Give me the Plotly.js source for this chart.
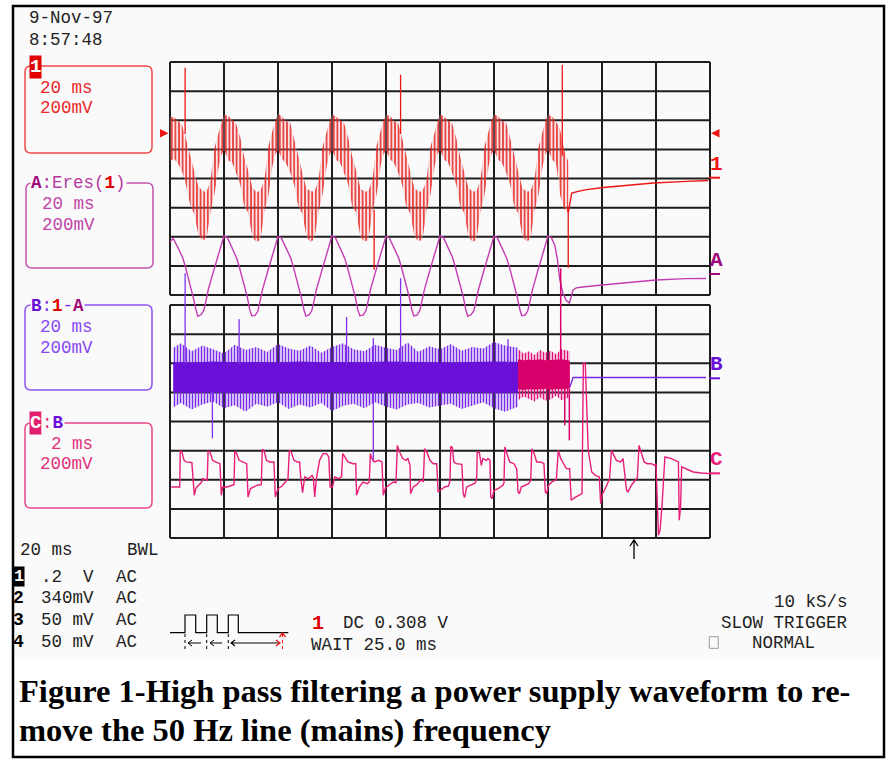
<!DOCTYPE html>
<html><head><meta charset="utf-8">
<script src="https://cdn.plot.ly/plotly-3.0.1.min.js"></script>
<style>html,body{margin:0;padding:0;background:#fff;}#chart{width:889px;height:764px;}</style>
</head><body><div id="chart"></div>
<script>
// Channel 1: 20 ms/div, 200 mV/div - envelope of the rippled mains waveform (mV)
const ch1_t = [0,1.5,3,4.5,6,7.5,9,10.5,12,13.5,15,16.5,18,19,
 20,21.5,23,24.5,26,27.5,29,30.5,32,33.5,35,36.5,38,39,
 40,41.5,43,44.5,46,47.5,49,50.5,52,53.5,55,56.5,58,59,
 60,61.5,63,64.5,66,67.5,69,70.5,72,73.5,75,76.5,78,79,
 80,81.5,83,84.5,86,87.5,89,90.5,92,93.5,95,96.5,98,99,
 100,101.5,103,104.5,106,107.5,109,110.5,112,113.5,115,116.5,118,119,
 120,121.5,123,124.5,126,127.5,129,130.5,132,133.5,135,136.5,138,139,
 140,141.5,143,144.5,146,147.5];
const ch1_upper = [420,415,390,360,260,150,40,-60,-90,-100,-20,205,310,380,
 433,425,395,370,280,140,50,-65,-100,-90,-10,220,325,390,
 440,418,388,378,268,150,40,-75,-92,-96,-18,210,315,385,
 436,420,393,372,275,145,46,-70,-96,-92,-12,218,320,388,
 430,424,390,376,270,148,42,-72,-94,-95,-16,214,316,386,
 438,419,392,374,274,144,45,-68,-93,-94,-14,216,319,389,
 435,422,390,377,271,147,43,-71,-95,-93,-15,213,317,387,
 433,420,385,330,190,110];
const ch1_lower = [115,130,95,40,-55,-190,-250,-395,-430,-420,-240,-110,70,150,
 195,120,105,30,-45,-200,-240,-410,-440,-430,-225,-120,85,160,
 190,128,98,35,-50,-195,-248,-400,-445,-420,-235,-115,75,155,
 192,122,102,30,-46,-198,-240,-405,-438,-428,-228,-118,80,158,
 188,126,100,34,-50,-196,-245,-402,-436,-425,-232,-116,78,160,
 194,123,103,31,-47,-199,-242,-404,-440,-427,-230,-119,79,157,
 191,125,100,33,-49,-197,-244,-401,-437,-426,-231,-117,77,159,
 192,125,95,-120,-215,-240];
const ch1_spike_t    = [5.6, 75.6, 85.4, 145.3, 147.5];
const ch1_spike_from = [300, -220, 300, 150, -200];
const ch1_spike_to   = [755, -632, 707, 776, -618];
const ch1_tail_t  = [147.5,148.8,151.2,154.3,160.5,171.6,179.0,191.4,199.4];
const ch1_tail_mv = [-240,-105,-94,-82,-67,-48,-36,-25,-19];

// Trace A = Eres(1): 20 ms/div, 200 mV/div
const A_t = [0,1.2,3.3,4.7,5.7,6.7,7.6,8.6,9.6,10.3,11.5,12.5,13.2,14.2,16.1,17.4,18.6,
 20,21.2,23.3,24.7,25.7,26.7,27.6,28.6,29.6,30.3,31.5,32.5,33.2,34.2,36.1,37.4,38.6,
 40,41.2,43.3,44.7,45.7,46.7,47.6,48.6,49.6,50.3,51.5,52.5,53.2,54.2,56.1,57.4,58.6,
 60,61.2,63.3,64.7,65.7,66.7,67.6,68.6,69.6,70.3,71.5,72.5,73.2,74.2,76.1,77.4,78.6,
 80,81.2,83.3,84.7,85.7,86.7,87.6,88.6,89.6,90.3,91.5,92.5,93.2,94.2,96.1,97.4,98.6,
 100,101.2,103.3,104.7,105.7,106.7,107.6,108.6,109.6,110.3,111.5,112.5,113.2,114.2,116.1,117.4,118.6,
 120,121.2,123.3,124.7,125.7,126.7,127.6,128.6,129.6,130.3,131.5,132.5,133.2,134.2,136.1,137.4,138.6,
 140,141.2,142.5,143.5,144.4,145.5,146.7,147.9,148.5,149.3,150.5,152,160,167,180,191,198.5];
const A_mv = [222,245,168,112,50,-18,-86,-160,-245,-290,-280,-250,-196,-105,18,98,188,
 261,252,163,108,46,-22,-90,-155,-250,-286,-284,-256,-200,-112,12,94,183,
 258,248,166,111,49,-20,-88,-159,-246,-289,-281,-253,-198,-108,15,97,186,
 262,251,164,109,47,-23,-91,-157,-248,-287,-283,-255,-201,-111,13,95,184,
 260,249,167,110,48,-19,-87,-158,-247,-288,-282,-252,-197,-109,16,96,185,
 261,253,165,112,46,-21,-89,-156,-249,-290,-280,-254,-199,-110,14,98,187,
 259,250,164,109,49,-20,-88,-158,-246,-287,-283,-253,-198,-112,15,96,184,
 261,250,200,100,-41,-130,-180,-199,-160,-110,-95,-91,-76,-62,-41,-32,-31];

// Trace B = 1-A (residual ripple): noise band envelopes (mV)
const B_fr_t  = [1.2,4,8,12,16,20,24,28,32,36,40,44,48,52,56,60,64,68,72,76,80,84,88,92,96,100,104,108,112,116,120,124,128.9];
const B_fr_up = [210,240,185,225,200,170,230,195,215,180,235,205,190,225,175,215,240,200,185,230,210,195,245,180,220,200,235,190,215,205,250,225,210];
const B_fr_lo = [-200,-170,-215,-180,-160,-205,-185,-230,-175,-195,-165,-210,-180,-200,-170,-225,-190,-175,-205,-165,-195,-215,-180,-170,-200,-185,-175,-210,-190,-165,-205,-230,-195];
const B_t       = [1.2,8,16,24,32,40,48,56,64,72,80,88,96,104,112,120,128.9];
const B_core_up = [112,108,115,110,112,108,115,110,112,110,115,112,110,108,112,115,112];
const B_core_lo = [-96,-100,-95,-100,-98,-96,-100,-97,-95,-100,-98,-96,-100,-98,-96,-100,-98];
const Bx_t       = [128.9,131,133,135,137,139,141,143,145,148.1];
const Bx_fr_up   = [200,170,185,160,195,175,190,165,200,185];
const Bx_fr_lo   = [-150,-125,-140,-160,-130,-155,-145,-120,-150,-130];
const Bx_core_up = [130,124,128,126,130,124,126,128,130,120];
const Bx_core_lo = [-76,-80,-74,-78,-76,-72,-78,-74,-76,-70];
const B_spike_t    = [5.6,15.7,25.6,65.4,75.3,75.3,85.4,125.2];
const B_spike_from = [100,-90,100,100,100,-90,100,100];
const B_spike_to   = [721,-412,405,421,275,-575,687,268];
const Bx_spike_t    = [144.7,146.2,147.9];
const Bx_spike_from = [120,-70,-70];
const Bx_spike_to   = [755,-323,-426];
const B_tail_t  = [148.1,149.3,160,170,180,190,198.5];
const B_tail_mv = [-60,5,5,5,5,5,5];

// Trace C = B at 2 ms/div, 200 mV/div
const C_t = [0.05,0.36,0.38,0.44,0.52,0.60,0.81,0.85,0.90,0.96,1.10,1.16,1.21,1.31,1.38,
 1.41,1.48,1.58,1.68,1.85,1.90,1.95,2.12,2.30,2.37,
 2.40,2.47,2.56,2.67,2.84,2.89,2.98,3.11,3.23,3.38,
 3.42,3.48,3.57,3.69,3.85,3.90,4.00,4.15,4.27,4.37,
 4.42,4.49,4.59,4.72,4.80,4.84,4.91,4.99,5.14,5.26,5.31,5.36,5.42,5.54,5.67,5.80,5.88,5.93,6.02,6.10,6.25,6.35,
 6.40,6.47,6.59,6.78,6.88,6.91,7.01,7.15,7.31,7.38,
 7.42,7.48,7.58,7.73,7.85,7.90,7.98,8.10,8.27,8.37,
 8.42,8.49,8.62,8.74,8.81,8.89,8.91,9.01,9.14,9.28,9.38,
 9.43,9.51,9.63,9.75,9.88,9.93,10.17,10.32,10.37,
 10.40,10.46,10.51,10.60,10.81,10.86,10.91,10.99,11.16,11.31,11.36,
 11.38,11.46,11.53,11.59,11.72,11.78,11.85,11.88,11.93,12.00,12.15,12.33,12.37,
 12.40,12.47,12.58,12.74,12.84,12.89,12.94,13.01,13.16,13.28,13.36,
 13.40,13.49,13.58,13.73,13.85,13.90,13.95,14.02,14.15,14.31,
 14.38,14.47,14.57,14.68,14.80,14.86,14.99,15.17,15.26,15.31,15.38,15.49,15.62,15.75,15.90,15.95,16.02,16.15,16.28,
 16.35,16.43,16.53,16.69,16.78,16.84,16.91,16.96,17.09,17.23,17.31,
 17.37,17.46,17.56,17.68,17.83,17.95,18.00,18.09,18.15,18.22,18.27,18.33,18.57,18.83,18.86,18.91,18.95,19.38,19.68,20.0];
const C_mv = [-94,-94,151,147,89,78,73,-60,-151,-101,-78,-64,-37,-44,-48,
 151,147,89,78,66,-151,-94,-94,-82,-78,
 151,135,89,78,66,-163,-105,-94,-82,-78,
 165,158,89,78,78,-163,-105,-87,-60,-37,
 158,147,89,78,78,-25,-133,-25,-37,-14,-32,-163,-37,89,135,135,112,-94,-94,-25,-37,-25,
 135,112,78,66,66,-151,-94,-60,-71,-60,
 135,101,78,89,78,-151,-101,-82,-60,-64,
 192,151,101,89,101,55,-140,-94,-78,-48,-55,
 169,147,89,66,66,-128,-94,-87,-48,
 185,176,78,66,62,-140,-167,-94,-82,-66,-25,
 151,140,55,101,89,101,89,-163,-174,-117,-105,-82,-66,
 181,135,78,66,32,-128,-140,-94,-82,-71,-48,
 169,135,78,78,66,-128,-140,-82,-59,-43,
 158,101,66,32,32,-185,-167,-151,-140,758,758,158,9,-14,-25,-208,-140,-94,-37,
 158,124,89,78,101,-2,-117,-128,-82,-48,-30,
 192,135,78,66,66,55,66,-426,-391,-231,-48,112,101,78,-322,-231,44,9,2,-2];

// ================= LAYOUT HELPERS =================
const W = 889, H = 764, L = 170, R = 710, TOP = 62, BOT = 538;
const X = px => (px - L) / (R - L);
const Y = py => (BOT - py) / (BOT - TOP);
const MVPX = 200 / 29.125;                 // 200 mV per 29.125 px row
const yr = g => [-(BOT - g) * MVPX, (g - TOP) * MVPX];
const MONO = '"Liberation Mono","DejaVu Sans Mono",monospace';
const SERIF = '"Liberation Serif","Times New Roman",serif';
const BG = '#fafafa';
const RED = '#ee1515', MAG = '#c33cb4', MAGD = '#a0087a', PUR = '#6a10d8', PURL = '#8a4af0', PINK = '#e81e78', CRIM = '#d8006a';

function poly(t, up, lo) { return { x: t.concat(t.slice().reverse()), y: up.concat(lo.slice().reverse()) }; }
function spikes(t, a, b) { const x = [], y = []; t.forEach((v, i) => { x.push(v, v, null); y.push(a[i], b[i], null); }); return { x, y }; }

const traces = [];
const p1 = poly(ch1_t, ch1_upper, ch1_lower);
traces.push({ x: p1.x, y: p1.y, xaxis: 'x', yaxis: 'y', mode: 'lines', fill: 'toself', line: { width: 0, color: RED },
  fillpattern: { shape: '|', fgcolor: '#e41414', bgcolor: 'rgba(250,175,175,0.3)', size: 3.6, solidity: 0.38 }, hoverinfo: 'skip' });
const s1 = spikes(ch1_spike_t, ch1_spike_from, ch1_spike_to);
traces.push({ x: s1.x, y: s1.y, xaxis: 'x', yaxis: 'y', mode: 'lines', line: { width: 1.3, color: RED }, connectgaps: false });
traces.push({ x: ch1_tail_t, y: ch1_tail_mv, xaxis: 'x', yaxis: 'y', mode: 'lines', line: { width: 1.4, color: RED } });

traces.push({ x: A_t, y: A_mv, xaxis: 'x', yaxis: 'y2', mode: 'lines', line: { width: 1.4, color: MAG } });

const bf = poly(B_fr_t, B_fr_up, B_fr_lo);
traces.push({ x: bf.x, y: bf.y, xaxis: 'x', yaxis: 'y3', mode: 'lines', fill: 'toself', line: { width: 0, color: PURL },
  fillpattern: { shape: '|', fgcolor: '#7a2ae8', bgcolor: 'rgba(150,100,240,0.2)', size: 3, solidity: 0.45 } });
const bc = poly(B_t, B_core_up, B_core_lo);
traces.push({ x: bc.x, y: bc.y, xaxis: 'x', yaxis: 'y3', mode: 'lines', fill: 'toself', line: { width: 0, color: PUR }, fillcolor: PUR });
const xf = poly(Bx_t, Bx_fr_up, Bx_fr_lo);
traces.push({ x: xf.x, y: xf.y, xaxis: 'x', yaxis: 'y3', mode: 'lines', fill: 'toself', line: { width: 0, color: CRIM },
  fillpattern: { shape: '|', fgcolor: '#e0107a', bgcolor: 'rgba(230,80,150,0.2)', size: 3, solidity: 0.45 } });
const xc = poly(Bx_t, Bx_core_up, Bx_core_lo);
traces.push({ x: xc.x, y: xc.y, xaxis: 'x', yaxis: 'y3', mode: 'lines', fill: 'toself', line: { width: 0, color: CRIM }, fillcolor: CRIM });
const sb = spikes(B_spike_t, B_spike_from, B_spike_to);
traces.push({ x: sb.x, y: sb.y, xaxis: 'x', yaxis: 'y3', mode: 'lines', line: { width: 1.3, color: '#8030ee' } });
const sx = spikes(Bx_spike_t, Bx_spike_from, Bx_spike_to);
traces.push({ x: sx.x, y: sx.y, xaxis: 'x', yaxis: 'y3', mode: 'lines', line: { width: 1.5, color: CRIM } });
traces.push({ x: B_tail_t, y: B_tail_mv, xaxis: 'x', yaxis: 'y3', mode: 'lines', line: { width: 1.4, color: '#7a2ae8' } });

traces.push({ x: C_t, y: C_mv, xaxis: 'x2', yaxis: 'y4', mode: 'lines', line: { width: 1.4, color: PINK } });

// ================= SHAPES =================
const shapes = [];
shapes.push({ type: 'rect', xref: 'paper', yref: 'paper', x0: X(14), x1: X(882), y0: Y(657), y1: Y(7), fillcolor: BG, line: { width: 0 }, layer: 'below' });
shapes.push({ type: 'rect', xref: 'paper', yref: 'paper', x0: X(13), x1: X(884), y0: Y(757), y1: Y(6), line: { color: '#000', width: 2.5 }, layer: 'above' });
const panels = [[62, 295], [305, 538]];
panels.forEach(([a, b]) => {
  for (let i = 0; i <= 10; i++) shapes.push({ type: 'line', xref: 'paper', yref: 'paper', x0: i / 10, x1: i / 10, y0: Y(b), y1: Y(a), line: { color: '#1e1e1e', width: 2 }, layer: 'below' });
  for (let j = 0; j <= 8; j++) { const py = a + (b - a) * j / 8; shapes.push({ type: 'line', xref: 'paper', yref: 'paper', x0: 0, x1: 1, y0: Y(py), y1: Y(py), line: { color: '#1e1e1e', width: 2 }, layer: 'below' }); }
});
function rr(x0, y0, x1, y1, r) {
  const p = (x, y) => X(x) + ',' + Y(y);
  return `M${p(x0 + r, y0)} L${p(x1 - r, y0)} Q${p(x1, y0)} ${p(x1, y0 + r)} L${p(x1, y1 - r)} Q${p(x1, y1)} ${p(x1 - r, y1)} L${p(x0 + r, y1)} Q${p(x0, y1)} ${p(x0, y1 - r)} L${p(x0, y0 + r)} Q${p(x0, y0)} ${p(x0 + r, y0)} Z`;
}
function path(d, color, w, dash) { return { type: 'path', xref: 'paper', yref: 'paper', path: d, line: { color, width: w, dash: dash || 'solid' } }; }
const pp = (x, y) => X(x) + ',' + Y(y);
shapes.push(path(rr(25, 66, 152, 153, 6), '#f04848', 1.5));
shapes.push(path(rr(26, 183, 153, 268, 6), '#c453b0', 1.5));
shapes.push(path(rr(25, 305, 152, 390, 6), '#8c52f0', 1.5));
shapes.push(path(rr(25, 423, 152, 508, 6), '#e8468a', 1.5));
shapes.push({ type: 'path', xref: 'paper', yref: 'paper', path: `M${pp(160, 129)} L${pp(168.5, 133.3)} L${pp(160, 137.6)} Z`, fillcolor: RED, line: { width: 0 } });
shapes.push({ type: 'path', xref: 'paper', yref: 'paper', path: `M${pp(719.5, 129)} L${pp(711, 133.3)} L${pp(719.5, 137.6)} Z`, fillcolor: RED, line: { width: 0 } });
[[177.7, RED], [274, MAGD], [378.3, PUR], [473.3, PINK]].forEach(([py, c]) =>
  shapes.push({ type: 'line', xref: 'paper', yref: 'paper', x0: X(709), x1: X(720), y0: Y(py), y1: Y(py), line: { color: c, width: 2 } }));
shapes.push(path(`M${pp(634, 559)} L${pp(634, 540)} M${pp(630, 546)} L${pp(634, 540)} L${pp(638, 546)}`, '#000', 1.3));
shapes.push(path(`M${pp(170, 632.7)} L${pp(185, 632.7)} L${pp(185, 615)} L${pp(195.7, 615)} L${pp(195.7, 632.7)} L${pp(206.7, 632.7)} L${pp(206.7, 615)} L${pp(217.3, 615)} L${pp(217.3, 632.7)} L${pp(228.3, 632.7)} L${pp(228.3, 615)} L${pp(238.3, 615)} L${pp(238.3, 632.7)} L${pp(288.3, 632.7)}`, '#000', 1.2));
[185, 206.7, 228.3].forEach(x => shapes.push(path(`M${pp(x, 634)} L${pp(x, 650)}`, '#000', 1, 'dot')));
shapes.push(path(`M${pp(188, 643)} L${pp(201, 643)} M${pp(192, 640)} L${pp(188, 643)} L${pp(192, 646)}`, '#000', 1));
shapes.push(path(`M${pp(210, 643)} L${pp(222, 643)} M${pp(214, 640)} L${pp(210, 643)} L${pp(214, 646)}`, '#000', 1));
shapes.push(path(`M${pp(231, 643)} L${pp(279, 643)} M${pp(235, 640)} L${pp(231, 643)} L${pp(235, 646)}`, '#000', 1.1));
shapes.push(path(`M${pp(276, 640)} L${pp(280, 643)} L${pp(276, 646)}`, RED, 1.3));
shapes.push(path(`M${pp(282.5, 649)} L${pp(282.5, 634)}`, RED, 1, 'dot'));
shapes.push(path(`M${pp(279.5, 637)} L${pp(282.5, 633)} L${pp(285.5, 637)}`, RED, 1.3));
shapes.push({ type: 'rect', xref: 'paper', yref: 'paper', x0: X(709.3), x1: X(718.3), y0: Y(648.3), y1: Y(636.7), line: { color: '#9a9a9a', width: 1 } });

// ================= TEXT =================
function T(x, y, text, o) {
  o = o || {};
  return Object.assign({ xref: 'paper', yref: 'paper', x: X(x), y: Y(y), text, showarrow: false, xanchor: 'left', yanchor: 'middle', borderpad: 0,
    font: { family: MONO, size: 17.5, color: o.color || '#222' } }, o.extra || {});
}
const sp = (c, s) => `<span style="color:${c}">${s}</span>`;
const ann = [
  T(28, 18.3, '9-Nov-97'), T(28, 40, '8:57:48'),
  T(29, 67, '<b>1</b>', { extra: { bgcolor: '#e00000', font: { family: MONO, size: 19, color: '#fff' } } }),
  T(39, 88, '20 ms', { color: '#e82828' }), T(39, 108, '200mV', { color: '#e82828' }),
  T(30, 183, `<b>${sp(MAGD, 'A')}</b>:Eres(<b>${sp('#e00000', '1')}</b>)`, { color: '#b83aa2', extra: { bgcolor: BG } }),
  T(41, 204, '20 ms', { color: '#c044a8' }), T(41, 225, '200mV', { color: '#c044a8' }),
  T(29.5, 306, `<b>${sp(PUR, 'B')}</b>:<b>${sp('#e00000', '1')}</b>-<b>${sp(MAGD, 'A')}</b>`, { color: '#7a30e4', extra: { bgcolor: BG } }),
  T(39, 327, '20 ms', { color: '#8848f0' }), T(39, 348, '200mV', { color: '#8848f0' }),
  T(29, 423, '<b>C</b>', { extra: { bgcolor: '#e0206e', font: { family: MONO, size: 19, color: '#fff' } } }),
  T(40.5, 423, `:<b>${sp(PUR, 'B')}</b>`, { color: '#e0307a', extra: { bgcolor: BG } }),
  T(50, 444, '2 ms', { color: '#e0307a' }), T(39, 464, '200mV', { color: '#e0307a' }),
  T(709, 164.5, '<b>1</b>', { extra: { font: { family: MONO, size: 21, color: RED } } }),
  T(709, 260, '<b>A</b>', { extra: { font: { family: MONO, size: 21, color: MAGD } } }),
  T(709, 364, '<b>B</b>', { extra: { font: { family: MONO, size: 21, color: PUR } } }),
  T(709, 459, '<b>C</b>', { extra: { font: { family: MONO, size: 21, color: PINK } } }),
  T(18.5, 550, '20 ms'), T(126, 550, 'BWL'),
  T(12.5, 576.7, '<b>1</b>', { extra: { bgcolor: '#000', font: { family: MONO, size: 17, color: '#fff' } } }),
  T(40, 576.7, '.2  V'), T(115, 576.7, 'AC'),
  T(12, 598.3, '<b>2</b>', { extra: { font: { family: MONO, size: 18, color: '#000' } } }), T(40, 598.3, '340mV'), T(115, 598.3, 'AC'),
  T(12, 620, '<b>3</b>', { extra: { font: { family: MONO, size: 18, color: '#000' } } }), T(40, 620, '50 mV'), T(115, 620, 'AC'),
  T(12, 641.7, '<b>4</b>', { extra: { font: { family: MONO, size: 18, color: '#000' } } }), T(40, 641.7, '50 mV'), T(115, 641.7, 'AC'),
  T(311, 623, '<b>1</b>', { extra: { font: { family: MONO, size: 20, color: '#e00000' } } }),
  T(342, 623.3, 'DC 0.308 V'), T(310, 645, 'WAIT 25.0 ms'),
  T(849, 601.7, '10 kS/s', { extra: { xanchor: 'right' } }),
  T(849, 623.3, 'SLOW TRIGGER', { extra: { xanchor: 'right' } }),
  T(751, 643.3, 'NORMAL'),
  T(18, 691, '<b>Figure 1-High pass filtering a power supply waveform to re-</b>', { extra: { font: { family: SERIF, size: 32.5, color: '#000' } } }),
  T(18, 730, '<b>move the 50 Hz line (mains) frequency</b>', { extra: { font: { family: SERIF, size: 32.5, color: '#000' } } })
];

const ax = { visible: false, fixedrange: true, autorange: false, showgrid: false, zeroline: false };
const layout = {
  width: W, height: H, margin: { l: L, r: W - R, t: TOP, b: H - BOT, pad: 0 },
  paper_bgcolor: '#ffffff', plot_bgcolor: 'rgba(0,0,0,0)', showlegend: false,
  xaxis: Object.assign({}, ax, { range: [0, 200] }),
  xaxis2: Object.assign({}, ax, { range: [0, 20], overlaying: 'x' }),
  yaxis: Object.assign({}, ax, { range: yr(177.7) }),
  yaxis2: Object.assign({}, ax, { range: yr(274), overlaying: 'y' }),
  yaxis3: Object.assign({}, ax, { range: yr(378.3), overlaying: 'y' }),
  yaxis4: Object.assign({}, ax, { range: yr(473.3), overlaying: 'y' }),
  shapes, annotations: ann
};
Plotly.newPlot('chart', traces, layout, { displayModeBar: false, staticPlot: true });
</script></body></html>
